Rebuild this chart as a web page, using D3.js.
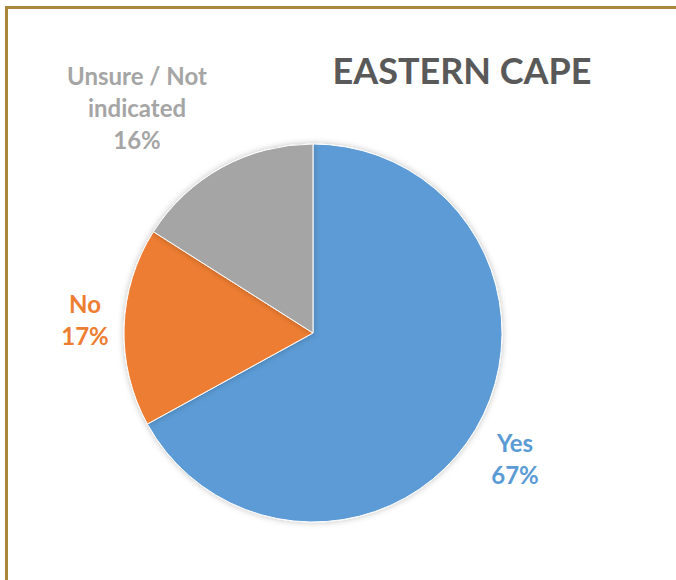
<!DOCTYPE html>
<html>
<head>
<meta charset="utf-8">
<script src="https://cdn.jsdelivr.net/npm/d3@7"></script>
<style>
  body { margin: 0; background: #fff; }
  svg { display: block; }
</style>
</head>
<body>
<div class="chart"></div>
<script>
// chart data
var categories = ["Yes", "No", "Unsure / Not indicated"];
var values = [67, 17, 16];
var colors = ["#5B9BD5", "#ED7D31", "#A5A5A5"];
var title = "EASTERN CAPE";

var svgWidth = 676;
var svgHeight = 580;
var cx = 313, cy = 333, radius = 189;

var svg = d3.select(".chart")
  .append("svg")
  .attr("width", svgWidth)
  .attr("height", svgHeight);

// gold frame (runs off right and bottom edge)
svg.append("rect")
  .attr("x", 6.5)
  .attr("y", 7.5)
  .attr("width", svgWidth + 20)
  .attr("height", svgHeight + 20)
  .attr("fill", "none")
  .attr("stroke", "#A8873A")
  .attr("stroke-width", 3);

var defs = svg.append("defs");
var filter = defs.append("filter").attr("id", "shadow")
  .attr("x", "-10%").attr("y", "-10%").attr("width", "120%").attr("height", "120%");
filter.append("feDropShadow")
  .attr("dx", 0).attr("dy", 0).attr("stdDeviation", 3)
  .attr("flood-color", "#000").attr("flood-opacity", 0.25);

// title
svg.append("text")
  .attr("x", 462)
  .attr("y", 84)
  .attr("text-anchor", "middle")
  .attr("font-family", "Lato, 'Open Sans', sans-serif")
  .attr("font-weight", "bold")
  .attr("font-size", 36)
  .attr("textLength", 259)
  .attr("fill", "#595959")
  .text(title);

var pie = d3.pie().sort(null).value(function(d) { return d; });
var arc = d3.arc().innerRadius(0).outerRadius(radius);

var g = svg.append("g")
  .attr("transform", "translate(" + cx + "," + cy + ")");

g.selectAll("path")
  .data(pie(values))
  .enter()
  .append("path")
  .attr("d", arc)
  .attr("fill", function(d, i) { return colors[i]; })
  .attr("stroke", "#fff")
  .attr("stroke-width", 1)
  .attr("filter", "url(#shadow)");

// labels: lines of text, anchor positions
var labels = [
  { lines: ["Yes", values[0] + "%"], x: 515, y: 452 },
  { lines: ["No", values[1] + "%"], x: 85, y: 313 },
  { lines: ["Unsure / Not", "indicated", values[2] + "%"], x: 137, y: 85 }
];

labels.forEach(function(l, i) {
  var t = svg.append("text")
    .attr("text-anchor", "middle")
    .attr("font-family", "Lato, 'Open Sans', sans-serif")
    .attr("font-weight", "bold")
    .attr("font-size", 24)
    .attr("fill", colors[i]);
  l.lines.forEach(function(s, j) {
    t.append("tspan")
      .attr("x", l.x)
      .attr("y", l.y + j * 32)
      .text(s);
  });
});
</script>
</body>
</html>
